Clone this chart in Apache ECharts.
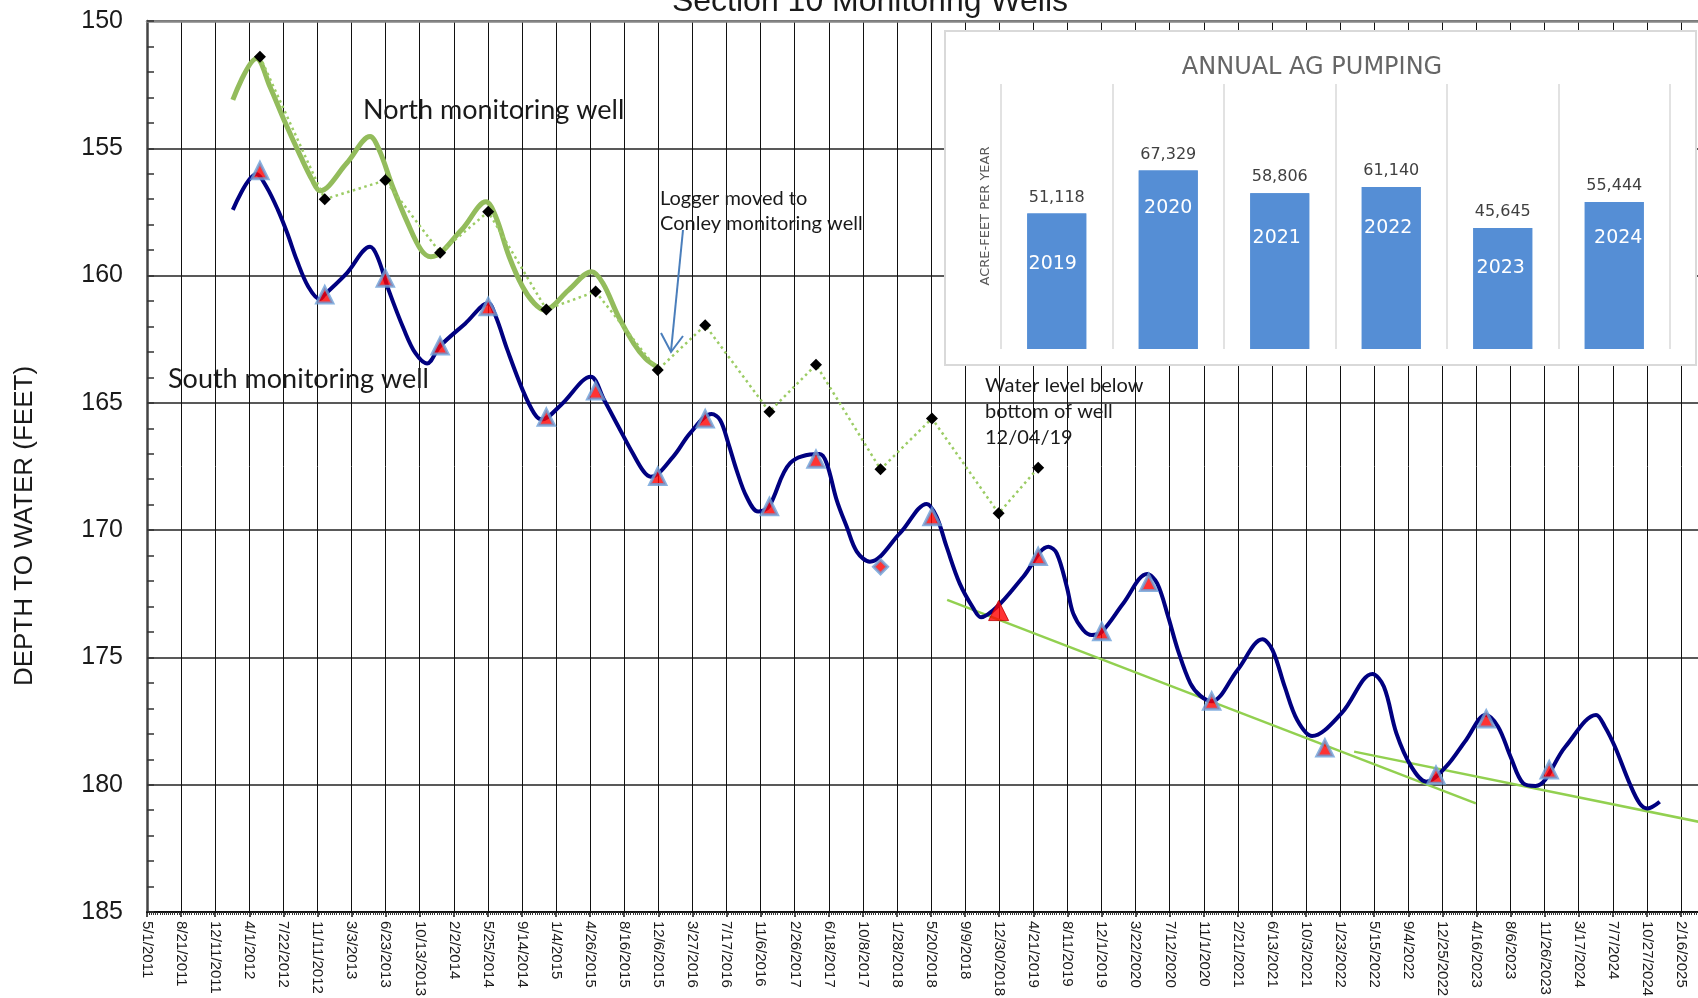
<!DOCTYPE html>
<html>
<head>
<meta charset="utf-8">
<title>Section 10 Monitoring Wells</title>
<script src="https://cdn.jsdelivr.net/npm/echarts@6/dist/echarts.min.js"></script>
<style>
  html, body { margin: 0; padding: 0; background: #fff; }
  #chart { width: 1698px; height: 998px; }
</style>
</head>
<body>
<div id="chart"></div>
<script>
// x axis runs in days from 5/1/2011, one gridline every 16 weeks
const AXIS_START = '2011-05-01';
const TICK_STEP_DAYS = 112;
const DEPTH_MIN = 150;
const DEPTH_MAX = 185;
const DEPTH_STEP = 5;

// manual soundings, both wells measured on the same days
const manualDates = [
  '2012-05-06', '2012-12-05', '2013-06-22', '2013-12-19', '2014-05-26', '2014-12-03',
  '2015-05-14', '2015-12-04', '2016-05-08', '2016-12-05', '2017-05-07', '2017-12-05',
  '2018-05-23', '2018-12-28', '2019-05-07', '2019-12-02', '2020-05-04', '2020-11-27',
  '2021-12-04', '2022-12-04', '2023-05-18', '2023-12-11'
];
// north well: only the first 15 dates (went dry 12/04/19)
const northManual = [
  151.40, 157.00, 156.26, 159.10, 157.49, 161.33, 160.63, 163.71,
  161.95, 165.35, 163.50, 167.61, 165.61, 169.34, 167.55
];
const southManual = [
  155.88, 160.76, 160.11, 162.77, 161.22, 165.57, 164.53, 167.89, 165.63, 169.08, 167.22,
  171.44, 169.47, 173.16, 171.04, 173.99, 172.06, 176.72, 178.56, 179.63, 177.42, 179.42
];

// transducer (logger) record, north well
const northLoggerDates = [
  '2012-02-07', '2012-04-25', '2012-06-08', '2012-07-29', '2012-09-17', '2012-10-25', '2012-11-19',
  '2013-02-15', '2013-05-03', '2013-06-02', '2013-07-16', '2013-09-04', '2013-10-18', '2013-11-19',
  '2014-02-27', '2014-05-19', '2014-06-20', '2014-08-03', '2014-09-16', '2014-10-24', '2014-11-27',
  '2015-02-14', '2015-05-01', '2015-06-07', '2015-07-28', '2015-09-16', '2015-10-24', '2015-11-30'
];
const northLogger = [
  153.10, 151.47, 152.58, 154.02, 155.33, 156.25, 156.67,
  155.59, 154.54, 155.07, 156.51, 157.95, 159.00, 159.26,
  158.21, 157.10, 157.69, 159.26, 160.44, 161.09, 161.35,
  160.57, 159.85, 160.30, 161.61, 162.66, 163.25, 163.58
];

// transducer (logger) record, south well
const southLoggerDates = [
  '2012-02-07', '2012-04-25', '2012-05-27', '2012-07-04', '2012-08-04', '2012-09-04', '2012-10-12', '2012-11-19', '2012-12-04',
  '2013-02-15', '2013-05-03', '2013-05-27', '2013-07-03', '2013-08-23', '2013-09-29', '2013-11-06', '2013-12-19',
  '2014-03-12', '2014-05-26', '2014-06-20', '2014-07-28', '2014-09-16', '2014-10-24', '2014-11-18',
  '2015-01-20', '2015-04-28', '2015-06-11', '2015-07-28', '2015-09-13', '2015-10-19', '2015-11-11',
  '2016-01-24', '2016-03-19', '2016-05-29', '2016-06-26', '2016-07-23', '2016-08-19', '2016-09-21', '2016-10-29', '2016-12-03',
  '2017-02-11', '2017-05-19', '2017-06-11', '2017-07-14', '2017-08-16', '2017-09-18', '2017-10-31',
  '2018-02-07', '2018-05-06', '2018-06-07', '2018-07-10', '2018-08-22', '2018-10-06', '2018-10-31', '2018-12-24',
  '2019-03-19', '2019-06-10', '2019-07-07', '2019-08-09', '2019-08-30', '2019-10-02', '2019-10-30', '2019-12-02',
  '2020-02-11', '2020-04-29', '2020-06-01', '2020-07-07', '2020-08-08', '2020-09-18', '2020-10-21', '2020-11-27',
  '2021-02-20', '2021-05-13', '2021-06-15', '2021-07-25', '2021-09-04', '2021-10-23',
  '2022-01-28', '2022-05-09', '2022-06-16', '2022-07-27', '2022-09-14', '2022-11-02',
  '2023-01-06', '2023-03-13', '2023-05-16', '2023-06-26', '2023-08-06', '2023-09-16', '2023-10-27',
  '2024-02-02', '2024-05-13', '2024-06-11', '2024-07-14', '2024-08-31', '2024-10-03', '2024-10-29', '2024-12-08'
];
const southLogger = [
  157.42, 156.01, 156.50, 157.42, 158.34, 159.39, 160.44, 160.93, 160.76,
  159.91, 158.87, 159.26, 160.57, 162.14, 163.05, 163.45, 162.77,
  161.88, 161.09, 161.61, 162.92, 164.49, 165.41, 165.65,
  165.08, 163.97, 164.89, 165.94, 166.98, 167.70, 167.90,
  167.11, 166.20, 165.44, 165.67, 166.59, 167.64, 168.69, 169.27, 169.08,
  167.37, 167.01, 167.37, 168.82, 169.87, 170.84, 171.24,
  170.12, 168.97, 169.47, 170.65, 172.09, 173.07, 173.42, 173.00,
  171.83, 170.65, 170.91, 172.22, 173.27, 173.92, 174.12, 173.99,
  172.87, 171.72, 172.09, 173.40, 174.71, 176.02, 176.51, 176.72,
  175.49, 174.29, 174.71, 176.15, 177.46, 178.09,
  177.19, 175.65, 176.15, 177.98, 179.29, 179.88,
  179.29, 178.24, 177.26, 177.72, 178.90, 179.94, 180.05,
  178.51, 177.26, 177.72, 178.51, 179.94, 180.73, 180.93, 180.67
];

// hand drawn trend lines along the seasonal lows
const trendADates = ['2018-07-12', '2023-04-14'];
const trendADepth = [172.74, 180.73];
const trendBDates = ['2022-03-10', '2025-06-01'];
const trendBDepth = [178.70, 181.57];

// inset: annual ag pumping
const pumpYears = ['2019', '2020', '2021', '2022', '2023', '2024'];
const pumpAcreFeet = [51118, 67329, 58806, 61140, 45645, 55444];

// ---------------------------------------------------------------

const DAY_MS = 86400000;
const t0 = Date.parse(AXIS_START);
const dayOf = (s) => Math.round((Date.parse(s) - t0) / DAY_MS);
const toXY = (dates, vals) => vals.map((v, i) => [dayOf(dates[i]), v]);

// plot spans 45 steps over 1534px in the original; grid runs a bit past the right edge
const PX_PER_DAY = 1534 / (45 * TICK_STEP_DAYS);
const GRID_LEFT = 147;
const GRID_RIGHT = -20;
const X_MAX = (1698 - GRID_LEFT - GRID_RIGHT) / PX_PER_DAY;

function tickLabel(v) {
  if (Math.abs(v % TICK_STEP_DAYS) > 1e-6) return '';
  const d = new Date(t0 + v * DAY_MS);
  return (d.getUTCMonth() + 1) + '/' + d.getUTCDate() + '/' + d.getUTCFullYear();
}

const AXIS_FONT = 'Liberation Sans, Arial, sans-serif';
const NOTE_FONT = 'Lato, sans-serif';
const INSET_FONT = 'DejaVu Sans, sans-serif';

// south manual markers: two readings were plotted with other symbols
const southManualData = toXY(manualDates, southManual).map((p, i) => {
  if (i === 11) return { value: p, symbol: 'diamond', symbolSize: 14 };
  if (i === 13) return { value: p, symbolSize: 20, itemStyle: { borderColor: '#c00000', borderWidth: 1 } };
  return p;
});

// year labels sit at different heights inside the bars (layout only)
const yearLabelShift = [[-4, 36], [0, 23], [-3, 30], [-3, 27], [-2, 26], [4, 21]];

const chart = echarts.init(document.getElementById('chart'));

const option = {
  animation: false,
  backgroundColor: '#ffffff',
  grid: [
    { left: GRID_LEFT, right: GRID_RIGHT, top: 21, bottom: 86, outerBoundsMode: 'none' },
    { left: 1001, top: 84, width: 669, height: 265, outerBoundsMode: 'none' }
  ],
  xAxis: [
    {
      type: 'value', gridIndex: 0, min: 0, max: X_MAX, interval: TICK_STEP_DAYS,
      axisLine: { show: true, onZero: false, lineStyle: { color: '#111', width: 2 } },
      axisTick: { show: true, length: 5, lineStyle: { color: '#111', width: 1.5 } },
      minorTick: { show: true, splitNumber: 16, length: 3, lineStyle: { color: '#333', width: 1 } },
      axisLabel: {
        rotate: -90, margin: 9, fontSize: 15, color: '#1a1a1a',
        fontFamily: AXIS_FONT, formatter: tickLabel, interval: 0,
        showMinLabel: true, showMaxLabel: false
      },
      splitLine: { show: true, lineStyle: { color: '#111', width: 1 } },
      z: 0
    },
    {
      type: 'value', gridIndex: 0, position: 'top', min: 0, max: X_MAX, interval: TICK_STEP_DAYS,
      axisLine: { show: true, onZero: false, lineStyle: { color: '#858585', width: 2.5 } },
      axisTick: { show: false }, axisLabel: { show: false }, splitLine: { show: false },
      z: 0
    },
    {
      type: 'category', gridIndex: 1, data: pumpYears,
      axisLine: { show: false }, axisTick: { show: false }, axisLabel: { show: false },
      splitLine: { show: true, lineStyle: { color: '#d9d9d9', width: 1.5 } },
      z: 2
    }
  ],
  yAxis: [
    {
      type: 'value', gridIndex: 0, inverse: true,
      min: DEPTH_MIN, max: DEPTH_MAX, interval: DEPTH_STEP,
      axisLine: { show: true, onZero: false, lineStyle: { color: '#444', width: 2.5 } },
      axisTick: { show: true, inside: true, length: 7, lineStyle: { color: '#333', width: 1.5 } },
      minorTick: { show: true, splitNumber: 5, length: 7, lineStyle: { color: '#333', width: 1.5 } },
      axisLabel: { fontSize: 25, color: '#1a1a1a', fontFamily: AXIS_FONT, margin: 24 },
      splitLine: { show: true, lineStyle: { color: '#222', width: 1.5 } },
      z: 0
    },
    { type: 'value', gridIndex: 1, min: 0, max: 100000, show: false }
  ],
  series: [
    {
      name: 'trend A', type: 'line', xAxisIndex: 0, yAxisIndex: 0,
      data: toXY(trendADates, trendADepth), symbol: 'none', silent: true,
      lineStyle: { color: '#92d050', width: 2.5 }, z: 2
    },
    {
      name: 'trend B', type: 'line', xAxisIndex: 0, yAxisIndex: 0,
      data: toXY(trendBDates, trendBDepth), symbol: 'none', silent: true,
      lineStyle: { color: '#92d050', width: 2.5 }, z: 2
    },
    {
      name: 'North logger', type: 'line', xAxisIndex: 0, yAxisIndex: 0,
      data: toXY(northLoggerDates, northLogger), symbol: 'none', smooth: 0.35,
      lineStyle: { color: '#93bc5c', width: 5 }, z: 3
    },
    {
      name: 'North manual', type: 'line', xAxisIndex: 0, yAxisIndex: 0,
      data: toXY(manualDates, northManual),
      symbol: 'diamond', symbolSize: 12, showAllSymbol: true,
      itemStyle: { color: '#000' },
      lineStyle: { color: '#9ccc65', width: 2.5, type: [2.5, 3.5] }, z: 4
    },
    {
      name: 'South logger', type: 'line', xAxisIndex: 0, yAxisIndex: 0,
      data: toXY(southLoggerDates, southLogger), symbol: 'none', smooth: 0.35,
      lineStyle: { color: '#000080', width: 4 }, z: 3
    },
    {
      name: 'South manual', type: 'scatter', xAxisIndex: 0, yAxisIndex: 0,
      data: southManualData, symbol: 'triangle', symbolSize: 16,
      itemStyle: { color: '#ff0000', borderColor: '#6a9fd8', borderWidth: 3 }, z: 5
    },
    {
      name: 'Ag pumping', type: 'bar', xAxisIndex: 2, yAxisIndex: 1,
      data: pumpAcreFeet, barWidth: 59,
      itemStyle: { color: '#558ed5' },
      label: {
        show: true, position: 'top', distance: 8, fontSize: 16,
        fontFamily: INSET_FONT, color: '#404040',
        formatter: (p) => p.value.toLocaleString('en-US')
      },
      z: 4
    },
    {
      name: 'Ag pumping year', type: 'bar', xAxisIndex: 2, yAxisIndex: 1,
      barGap: '-100%', barWidth: 59,
      data: pumpAcreFeet.map((v, i) => ({ value: v, label: { offset: yearLabelShift[i] } })),
      itemStyle: { color: '#558ed5' },
      label: {
        show: true, position: 'insideTop', fontSize: 19,
        fontFamily: INSET_FONT, color: '#ffffff',
        formatter: (p) => pumpYears[p.dataIndex]
      },
      z: 5
    }
  ],
  graphic: {
    elements: [
      // inset frame
      {
        type: 'rect', z: 1, silent: true,
        shape: { x: 945, y: 31, width: 751, height: 334 },
        style: { fill: '#ffffff', stroke: '#d9d9d9', lineWidth: 2 }
      },
      {
        type: 'text', z: 6, x: 1312, y: 68,
        style: {
          text: 'ANNUAL AG PUMPING', fontSize: 24, fontFamily: INSET_FONT, fill: '#666666',
          align: 'center', verticalAlign: 'middle', textAlign: 'center', textVerticalAlign: 'middle'
        }
      },
      {
        type: 'text', z: 6, x: 986, y: 216, rotation: Math.PI / 2,
        style: {
          text: 'ACRE-FEET PER YEAR', fontSize: 13, fontFamily: INSET_FONT, fill: '#595959',
          align: 'center', verticalAlign: 'middle', textAlign: 'center', textVerticalAlign: 'middle'
        }
      },
      // main title (cut off at the top in the original)
      {
        type: 'text', z: 6, x: 870, y: 2,
        style: {
          text: 'Section 10 Monitoring Wells', fontSize: 32, fontFamily: AXIS_FONT, fill: '#1a1a1a',
          align: 'center', verticalAlign: 'middle', textAlign: 'center', textVerticalAlign: 'middle'
        }
      },
      // y axis name
      {
        type: 'text', z: 6, x: 25, y: 526, rotation: Math.PI / 2,
        style: {
          text: 'DEPTH TO WATER (FEET)', fontSize: 26, fontFamily: AXIS_FONT, fill: '#1a1a1a',
          align: 'center', verticalAlign: 'middle', textAlign: 'center', textVerticalAlign: 'middle'
        }
      },
      // notes
      {
        type: 'text', z: 6, x: 363, y: 110,
        style: { text: 'North monitoring well', fontSize: 27, fontFamily: NOTE_FONT, fill: '#1a1a1a', verticalAlign: 'middle', textVerticalAlign: 'middle' }
      },
      {
        type: 'text', z: 6, x: 168, y: 379,
        style: { text: 'South monitoring well', fontSize: 27, fontFamily: NOTE_FONT, fill: '#1a1a1a', verticalAlign: 'middle', textVerticalAlign: 'middle' }
      },
      {
        type: 'text', z: 6, x: 660, y: 199,
        style: { text: 'Logger moved to', fontSize: 20, fontFamily: NOTE_FONT, fill: '#1a1a1a', verticalAlign: 'middle', textVerticalAlign: 'middle' }
      },
      {
        type: 'text', z: 6, x: 660, y: 224,
        style: { text: 'Conley monitoring well', fontSize: 20, fontFamily: NOTE_FONT, fill: '#1a1a1a', verticalAlign: 'middle', textVerticalAlign: 'middle' }
      },
      {
        type: 'text', z: 6, x: 985, y: 386,
        style: { text: 'Water level below', fontSize: 20, fontFamily: NOTE_FONT, fill: '#1a1a1a', verticalAlign: 'middle', textVerticalAlign: 'middle' }
      },
      {
        type: 'text', z: 6, x: 985, y: 412,
        style: { text: 'bottom of well', fontSize: 20, fontFamily: NOTE_FONT, fill: '#1a1a1a', verticalAlign: 'middle', textVerticalAlign: 'middle' }
      },
      {
        type: 'text', z: 6, x: 985, y: 438,
        style: { text: '12/04/19', fontSize: 20, fontFamily: NOTE_FONT, fill: '#1a1a1a', verticalAlign: 'middle', textVerticalAlign: 'middle' }
      },
      // arrow to the last north reading
      {
        type: 'line', z: 6, silent: true,
        shape: { x1: 683, y1: 230, x2: 671, y2: 351 },
        style: { stroke: '#4a7ebb', lineWidth: 2 }
      },
      {
        type: 'polyline', z: 6, silent: true,
        shape: { points: [[661, 333], [671, 352], [683, 336]] },
        style: { stroke: '#4a7ebb', lineWidth: 2, fill: null }
      }
    ]
  }
};

chart.setOption(option);
</script>
</body>
</html>
